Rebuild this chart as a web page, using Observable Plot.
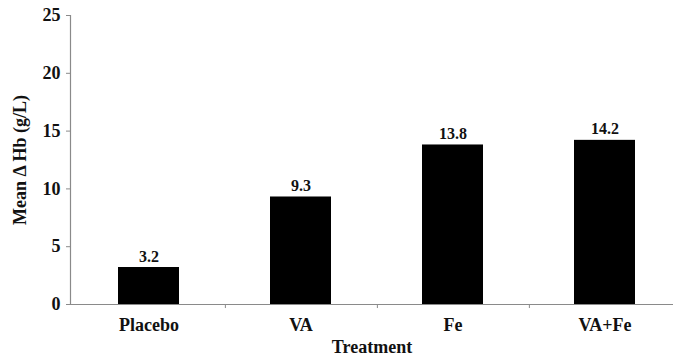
<!DOCTYPE html>
<html>
<head>
<meta charset="utf-8">
<script src="https://cdn.jsdelivr.net/npm/d3@7"></script>
<script src="https://cdn.jsdelivr.net/npm/@observablehq/plot@0.6"></script>
<style>
  html, body { margin: 0; padding: 0; background: #fff; }
</style>
</head>
<body>
<div id="chart"></div>
<script>
const treatments = ["Placebo", "VA", "Fe", "VA+Fe"];
const meanDeltaHb = [3.2, 9.3, 13.8, 14.2];
const valueLabels = ["3.2", "9.3", "13.8", "14.2"];
const yTicks = [0, 5, 10, 15, 20, 25];
const yLabel = "Mean \u0394 Hb (g/L)";
const xLabel = "Treatment";

const data = treatments.map((t, i) => ({t, v: meanDeltaHb[i], label: valueLabels[i]}));

const W = 673, H = 360;
const xRange = [71, 682];
const step = (xRange[1] - xRange[0]) / treatments.length;
const axisGray = "#8a8a8a";
const textColor = "#111";

const chart = Plot.plot({
  width: W,
  height: H,
  marginLeft: 70,
  marginRight: 0,
  marginTop: 15,
  marginBottom: 56,
  style: {fontFamily: "'Liberation Serif', 'Times New Roman', serif", fontWeight: "bold", fontSize: "18px", background: "#fff"},
  x: {domain: treatments, range: xRange, paddingInner: 0.6, paddingOuter: 0.3},
  y: {domain: [0, 25]},
  marks: [
    Plot.barY(data, {x: "t", y: "v", fill: "#000"}),
    Plot.text(data, {x: "t", y: "v", text: "label", dy: -11, fontSize: 16, fill: textColor}),
    Plot.frame({anchor: "left", stroke: axisGray, strokeWidth: 1.2}),
    Plot.ruleY([0], {stroke: axisGray, strokeWidth: 1.2}),
    Plot.ruleX(treatments, {x: d => d, y1: 0, y2: -0.35, dx: step / 2, stroke: axisGray}),
    Plot.axisY({ticks: yTicks, tickSize: 4, tickPadding: 6, stroke: axisGray, fill: textColor, label: null, fontSize: 18}),
    Plot.axisX({tickSize: 0, tickPadding: 14, fill: textColor, label: null, fontSize: 18}),
    Plot.text([yLabel], {frameAnchor: "left", textAnchor: "middle", rotate: -90, dx: -50, fontSize: 18, fill: textColor}),
    Plot.text([xLabel], {frameAnchor: "bottom", dy: 48, fontSize: 18, fill: textColor})
  ]
});
document.getElementById("chart").appendChild(chart);
</script>
</body>
</html>
